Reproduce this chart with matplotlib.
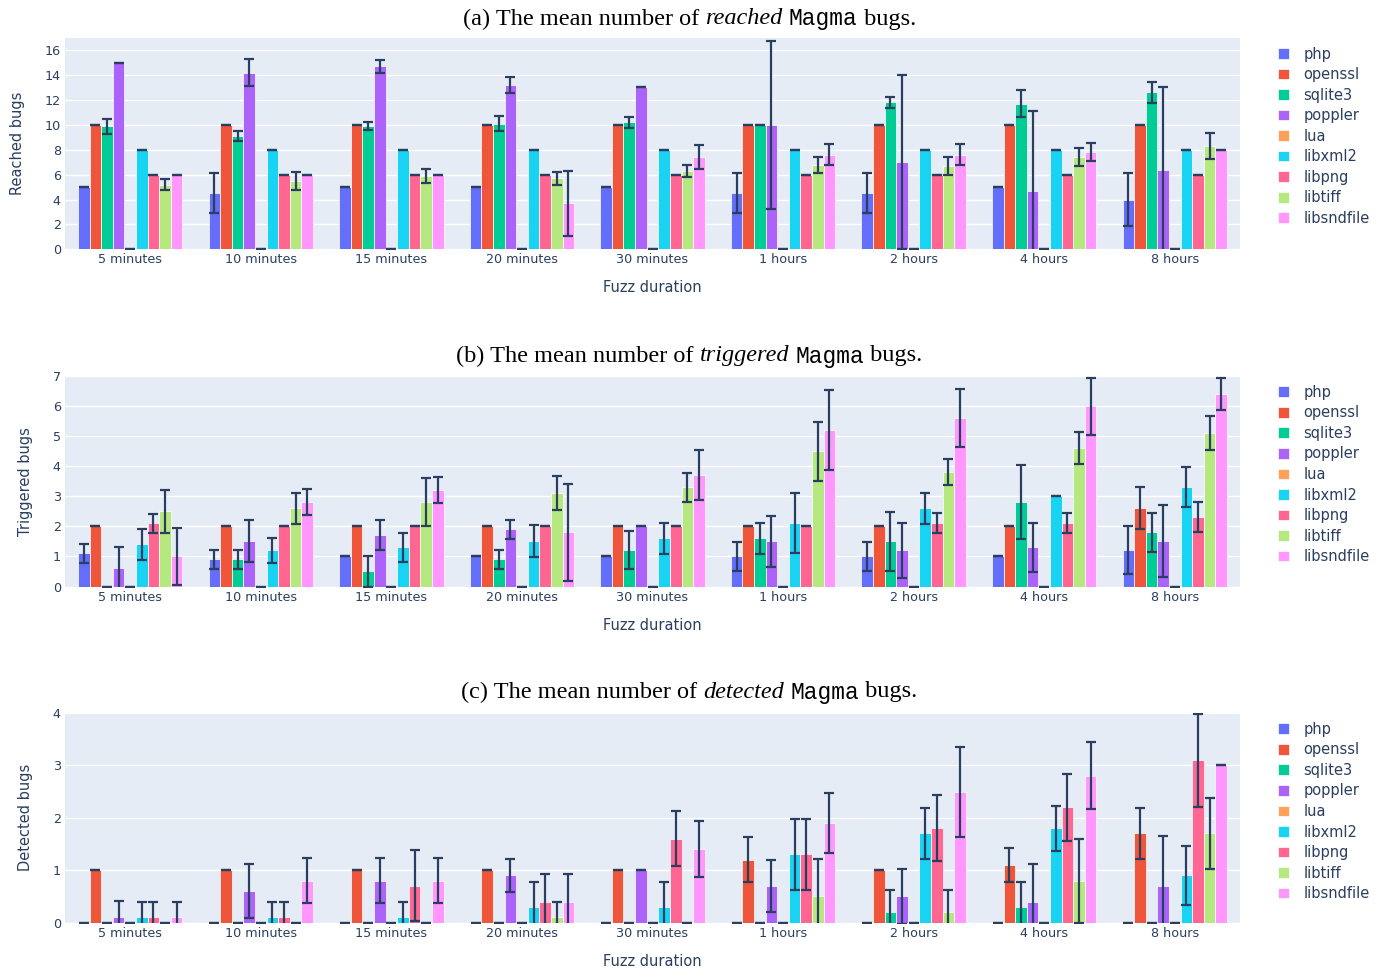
import numpy as np
import matplotlib
matplotlib.use('Agg')
import matplotlib.pyplot as plt
from matplotlib.patches import Patch

plt.rcParams['font.family'] = ['DejaVu Sans']

durations = ['5 minutes', '10 minutes', '15 minutes', '20 minutes', '30 minutes',
             '1 hours', '2 hours', '4 hours', '8 hours']
targets = ['php', 'openssl', 'sqlite3', 'poppler', 'lua', 'libxml2', 'libpng', 'libtiff', 'libsndfile']
colors = ['#636EFA', '#EF553B', '#00CC96', '#AB63FA', '#FFA15A',
          '#19D3F3', '#FF6692', '#B6E880', '#FF97FF']

# reached bugs: mean per target, one entry per duration
reached = {
    'php':        [5, 4.5, 5, 5, 5, 4.5, 4.5, 5, 4],
    'openssl':    [10, 10, 10, 10, 10, 10, 10, 10, 10],
    'sqlite3':    [9.9, 9.1, 9.9, 10.1, 10.2, 10, 11.8, 11.7, 12.6],
    'poppler':    [15, 14.2, 14.7, 13.2, 13, 10, 7, 4.7, 6.4],
    'lua':        [0, 0, 0, 0, 0, 0, 0, 0, 0],
    'libxml2':    [8, 8, 8, 8, 8, 8, 8, 8, 8],
    'libpng':     [6, 6, 6, 6, 6, 6, 6, 6, 6],
    'libtiff':    [5.2, 5.5, 5.9, 5.7, 6.3, 6.8, 6.7, 7.4, 8.3],
    'libsndfile': [6, 6, 6, 3.7, 7.4, 7.6, 7.6, 7.8, 8],
}
reached_err = {
    'php':        [0, 1.6, 0, 0, 0, 1.6, 1.6, 0, 2.1],
    'openssl':    [0, 0, 0, 0, 0, 0, 0, 0, 0],
    'sqlite3':    [0.6, 0.37, 0.33, 0.59, 0.45, 0, 0.44, 1.07, 0.86],
    'poppler':    [0, 1.05, 0.5, 0.64, 0, 6.75, 7, 6.4, 6.6],
    'lua':        [0, 0, 0, 0, 0, 0, 0, 0, 0],
    'libxml2':    [0, 0, 0, 0, 0, 0, 0, 0, 0],
    'libpng':     [0, 0, 0, 0, 0, 0, 0, 0, 0],
    'libtiff':    [0.45, 0.72, 0.57, 0.5, 0.5, 0.64, 0.7, 0.71, 1.05],
    'libsndfile': [0, 0, 0, 2.63, 0.98, 0.84, 0.84, 0.71, 0],
}

# triggered bugs
triggered = {
    'php':        [1.1, 0.9, 1, 1, 1, 1, 1, 1, 1.2],
    'openssl':    [2, 2, 2, 2, 2, 2, 2, 2, 2.6],
    'sqlite3':    [0, 0.9, 0.5, 0.9, 1.2, 1.6, 1.5, 2.8, 1.8],
    'poppler':    [0.6, 1.5, 1.7, 1.9, 2, 1.5, 1.2, 1.3, 1.5],
    'lua':        [0, 0, 0, 0, 0, 0, 0, 0, 0],
    'libxml2':    [1.4, 1.2, 1.3, 1.5, 1.6, 2.1, 2.6, 3, 3.3],
    'libpng':     [2.1, 2, 2, 2, 2, 2, 2.1, 2.1, 2.3],
    'libtiff':    [2.5, 2.6, 2.8, 3.1, 3.3, 4.5, 3.8, 4.6, 5.1],
    'libsndfile': [1, 2.8, 3.2, 1.8, 3.7, 5.2, 5.6, 6, 6.4],
}
triggered_err = {
    'php':        [0.32, 0.32, 0, 0, 0, 0.48, 0.48, 0, 0.8],
    'openssl':    [0, 0, 0, 0, 0, 0, 0, 0, 0.7],
    'sqlite3':    [0, 0.32, 0.52, 0.32, 0.63, 0.51, 0.98, 1.23, 0.64],
    'poppler':    [0.7, 0.7, 0.5, 0.32, 0, 0.86, 0.92, 0.82, 1.2],
    'lua':        [0, 0, 0, 0, 0, 0, 0, 0, 0],
    'libxml2':    [0.52, 0.42, 0.49, 0.53, 0.51, 1.0, 0.52, 0, 0.67],
    'libpng':     [0.32, 0, 0, 0, 0, 0, 0.33, 0.33, 0.5],
    'libtiff':    [0.72, 0.52, 0.8, 0.57, 0.49, 0.98, 0.43, 0.53, 0.57],
    'libsndfile': [0.95, 0.43, 0.43, 1.62, 0.83, 1.32, 0.97, 0.95, 0.52],
}

# detected bugs
detected = {
    'php':        [0, 0, 0, 0, 0, 0, 0, 0, 0],
    'openssl':    [1, 1, 1, 1, 1, 1.2, 1, 1.1, 1.7],
    'sqlite3':    [0, 0, 0, 0, 0, 0, 0.2, 0.3, 0],
    'poppler':    [0.1, 0.6, 0.8, 0.9, 1, 0.7, 0.5, 0.4, 0.7],
    'lua':        [0, 0, 0, 0, 0, 0, 0, 0, 0],
    'libxml2':    [0.1, 0.1, 0.1, 0.3, 0.3, 1.3, 1.7, 1.8, 0.9],
    'libpng':     [0.1, 0.1, 0.7, 0.4, 1.6, 1.3, 1.8, 2.2, 3.1],
    'libtiff':    [0, 0, 0, 0.1, 0, 0.5, 0.2, 0.8, 1.7],
    'libsndfile': [0.1, 0.8, 0.8, 0.4, 1.4, 1.9, 2.5, 2.8, 3],
}
detected_err = {
    'php':        [0, 0, 0, 0, 0, 0, 0, 0, 0],
    'openssl':    [0, 0, 0, 0, 0, 0.43, 0, 0.32, 0.48],
    'sqlite3':    [0, 0, 0, 0, 0, 0, 0.43, 0.48, 0],
    'poppler':    [0.32, 0.52, 0.43, 0.32, 0, 0.49, 0.52, 0.71, 0.96],
    'lua':        [0, 0, 0, 0, 0, 0, 0, 0, 0],
    'libxml2':    [0.3, 0.3, 0.3, 0.48, 0.48, 0.67, 0.48, 0.43, 0.57],
    'libpng':     [0.3, 0.3, 0.68, 0.52, 0.52, 0.67, 0.63, 0.64, 0.89],
    'libtiff':    [0, 0, 0, 0.3, 0, 0.72, 0.43, 0.8, 0.68],
    'libsndfile': [0.3, 0.43, 0.43, 0.52, 0.53, 0.57, 0.86, 0.64, 0],
}

panels = [
    ('(a)', 'reached', 'Reached bugs', reached, reached_err, 17, [0, 2, 4, 6, 8, 10, 12, 14, 16]),
    ('(b)', 'triggered', 'Triggered bugs', triggered, triggered_err, 7, [0, 1, 2, 3, 4, 5, 6, 7]),
    ('(c)', 'detected', 'Detected bugs', detected, detected_err, 4, [0, 1, 2, 3, 4]),
]

W, H = 1380, 969
fig = plt.figure(figsize=(W / 100, H / 100), dpi=100)
fig.patch.set_facecolor('white')
renderer = fig.canvas.get_renderer()

# pixel boxes of the three plot areas: (top, bottom)
boxes = [(37.7, 249.3), (376, 586.5), (713, 922.5)]
left_px, right_px = 65, 1240
title_y = [19, 356, 692]
txt = '#2a3f5f'

x = np.arange(len(durations))
w = 0.8 / len(targets)


def draw_title(ypix, pieces, cx=689.5):
    # lay the pieces out left to right, then centre the whole line
    arts = []
    xpos = 0.0
    for s, kw in pieces:
        t = fig.text(0, 1 - ypix / H, s, ha='left', va='center', color='black', **kw)
        bb = t.get_window_extent(renderer=renderer)
        arts.append((t, xpos))
        xpos += bb.width
    start = cx - xpos / 2
    for t, off in arts:
        t.set_x((start + off) / W)


for k, (tag, word, ylab, data, err, ymax, yt) in enumerate(panels):
    top, bot = boxes[k]
    ax = fig.add_axes([left_px / W, 1 - bot / H, (right_px - left_px) / W, (bot - top) / H])
    ax.set_facecolor('#E5ECF6')
    for j, t in enumerate(targets):
        pos = x + (j - 4) * w
        ax.bar(pos, data[t], width=w, color=colors[j], edgecolor='white', linewidth=0.5, zorder=2)
        ax.errorbar(pos, data[t], yerr=err[t], fmt='none', ecolor=txt, elinewidth=1.6,
                    capsize=3.5, capthick=1.6, zorder=3)
    ax.set_xlim(-0.5, len(durations) - 0.5)
    ax.set_ylim(0, ymax)
    ax.set_yticks(yt)
    ax.grid(axis='y', color='white', linewidth=1, zorder=0)
    ax.set_axisbelow(True)
    for s in ax.spines.values():
        s.set_visible(False)
    ax.set_xticks(x)
    ax.set_xticklabels(durations)
    ax.tick_params(axis='both', length=0, labelsize=9.2, labelcolor=txt, pad=3)
    ax.set_xlabel('Fuzz duration', fontsize=10.5, color=txt, labelpad=10)
    ax.set_ylabel(ylab, fontsize=10.5, color=txt, labelpad=14)
    handles = [Patch(facecolor=c, edgecolor='white', linewidth=0.5) for c in colors]
    ax.legend(handles, targets, loc='upper left', bbox_to_anchor=(1272 / W, 1 - (top + 3) / H),
              bbox_transform=fig.transFigure, frameon=False, fontsize=10.5, labelcolor=txt,
              handlelength=0.75, handleheight=0.75, handletextpad=1.0, labelspacing=0.38,
              borderaxespad=0)
    draw_title(title_y[k], [
        (tag + ' The mean number of ', dict(family='Liberation Serif', fontsize=17.5)),
        (word, dict(family='Liberation Serif', style='italic', fontsize=17.5)),
        (' ', dict(family='Liberation Serif', fontsize=17.5)),
        ('Magma', dict(family='Liberation Mono', fontsize=16.5)),
        (' bugs.', dict(family='Liberation Serif', fontsize=17.5)),
    ])

fig.savefig('out.png', dpi=100)
